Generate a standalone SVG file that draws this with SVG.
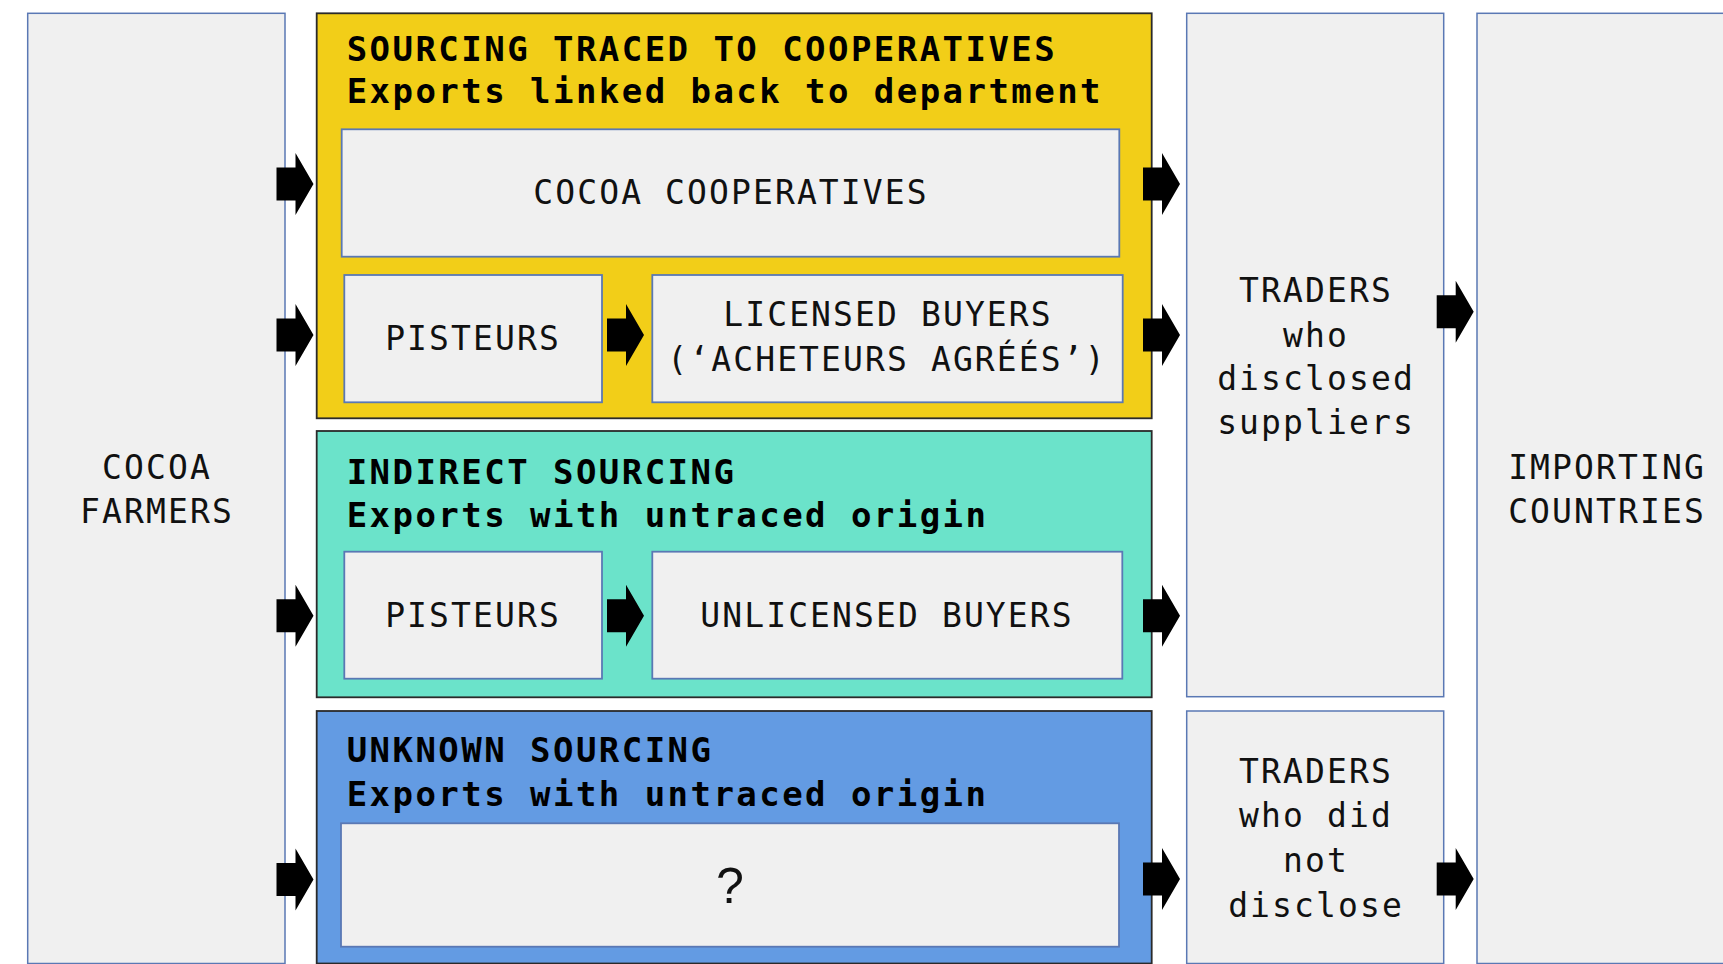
<svg xmlns="http://www.w3.org/2000/svg" xmlns:xlink="http://www.w3.org/1999/xlink" width="1723" height="964" viewBox="0 0 1723 964">
  <style>
    .side { fill: #f0f0f0; stroke: #5a78b4; stroke-width: 1.5; }
    .inner { fill: #f0f0f0; stroke: #5a78b4; stroke-width: 1.8; }
    .group { stroke: #2a2a2a; stroke-width: 1.8; }
    .yellow { fill: #f2ce18; }
    .teal { fill: #6be3ca; }
    .blue { fill: #639be3; }
    .title { font-family: "DejaVu Sans Mono", "Liberation Mono", monospace; font-weight: bold; font-size: 34px; letter-spacing: 2.45px; fill: #000; }
    .label { font-family: "DejaVu Sans Mono", "Liberation Mono", monospace; font-size: 33px; letter-spacing: 2.1px; fill: #111; text-anchor: middle; }
    .q { font-family: "Liberation Sans", Arial, sans-serif; font-size: 50px; fill: #111; text-anchor: middle; }
    .arrow { fill: #000; }
  </style>
  <defs>
    <path id="arr" d="M0,-16.5 H19 V-31 L37,0 L19,31 V16.5 H0 Z"/>
  </defs>
  <rect width="1723" height="964" fill="#ffffff"/>

  <g id="farmers">
    <rect class="side" x="27.7" y="13.3" width="257.3" height="950.2"/>
    <text class="label" x="157" y="479.3">COCOA</text>
    <text class="label" x="157" y="522.7">FARMERS</text>
  </g>

  <g id="traced">
    <rect class="group yellow" x="316.7" y="13.3" width="835" height="405"/>
    <text class="title" x="346.7" y="61">SOURCING TRACED TO COOPERATIVES</text>
    <text class="title" x="346.7" y="103.3">Exports linked back to department</text>
  </g>
  <g id="cooperatives">
    <rect class="inner" x="341.7" y="129.3" width="777.6" height="127.4"/>
    <text class="label" x="731" y="204">COCOA COOPERATIVES</text>
  </g>
  <g id="pisteurs-traced">
    <rect class="inner" x="344.3" y="275" width="257.7" height="127.3"/>
    <text class="label" x="473" y="350">PISTEURS</text>
  </g>
  <g id="licensed-buyers">
    <rect class="inner" x="652.3" y="275" width="470.4" height="127.3"/>
    <text class="label" x="888" y="326">LICENSED BUYERS</text>
    <text class="label" x="887" y="370.7">(‘ACHETEURS AGRÉÉS’)</text>
  </g>

  <g id="indirect">
    <rect class="group teal" x="316.7" y="431" width="835" height="266.3"/>
    <text class="title" x="346.7" y="483.5">INDIRECT SOURCING</text>
    <text class="title" x="346.7" y="527.3">Exports with untraced origin</text>
  </g>
  <g id="pisteurs-indirect">
    <rect class="inner" x="344.3" y="551.7" width="257.7" height="127"/>
    <text class="label" x="473" y="626.7">PISTEURS</text>
  </g>
  <g id="unlicensed-buyers">
    <rect class="inner" x="652.3" y="551.7" width="470" height="127"/>
    <text class="label" x="887" y="626.7">UNLICENSED BUYERS</text>
  </g>

  <g id="unknown">
    <rect class="group blue" x="316.7" y="711" width="835" height="252.5"/>
    <text class="title" x="346.7" y="762.3">UNKNOWN SOURCING</text>
    <text class="title" x="346.7" y="806">Exports with untraced origin</text>
  </g>
  <g id="unknown-intermediary">
    <rect class="inner" x="341" y="823.3" width="778" height="123.4"/>
    <text class="q" x="730" y="903.3">?</text>
  </g>

  <g id="traders-disclosed">
    <rect class="side" x="1186.7" y="13.3" width="257" height="683.4"/>
    <text class="label" x="1316" y="301.7">TRADERS</text>
    <text class="label" x="1316" y="346.7">who</text>
    <text class="label" x="1316" y="390">disclosed</text>
    <text class="label" x="1316" y="434">suppliers</text>
  </g>
  <g id="traders-undisclosed">
    <rect class="side" x="1186.7" y="711" width="257" height="252.5"/>
    <text class="label" x="1316" y="782.7">TRADERS</text>
    <text class="label" x="1316" y="827.3">who did</text>
    <text class="label" x="1316" y="872.3">not</text>
    <text class="label" x="1316" y="916.7">disclose</text>
  </g>

  <g id="importing">
    <rect class="side" x="1477" y="13.3" width="300" height="950.2"/>
    <text class="label" x="1607" y="479.3">IMPORTING</text>
    <text class="label" x="1607" y="522.7">COUNTRIES</text>
  </g>

  <g id="connectors" class="arrow">
    <use xlink:href="#arr" href="#arr" x="276.5" y="184"/>
    <use xlink:href="#arr" href="#arr" x="276.5" y="335"/>
    <use xlink:href="#arr" href="#arr" x="276.5" y="615.7"/>
    <use xlink:href="#arr" href="#arr" x="276.5" y="879.5"/>
    <use xlink:href="#arr" href="#arr" x="607" y="335"/>
    <use xlink:href="#arr" href="#arr" x="607" y="615.7"/>
    <use xlink:href="#arr" href="#arr" x="1143" y="184"/>
    <use xlink:href="#arr" href="#arr" x="1143" y="335"/>
    <use xlink:href="#arr" href="#arr" x="1143" y="615.7"/>
    <use xlink:href="#arr" href="#arr" x="1143" y="879"/>
    <use xlink:href="#arr" href="#arr" x="1436.7" y="311.7"/>
    <use xlink:href="#arr" href="#arr" x="1436.7" y="879"/>
  </g>
</svg>
